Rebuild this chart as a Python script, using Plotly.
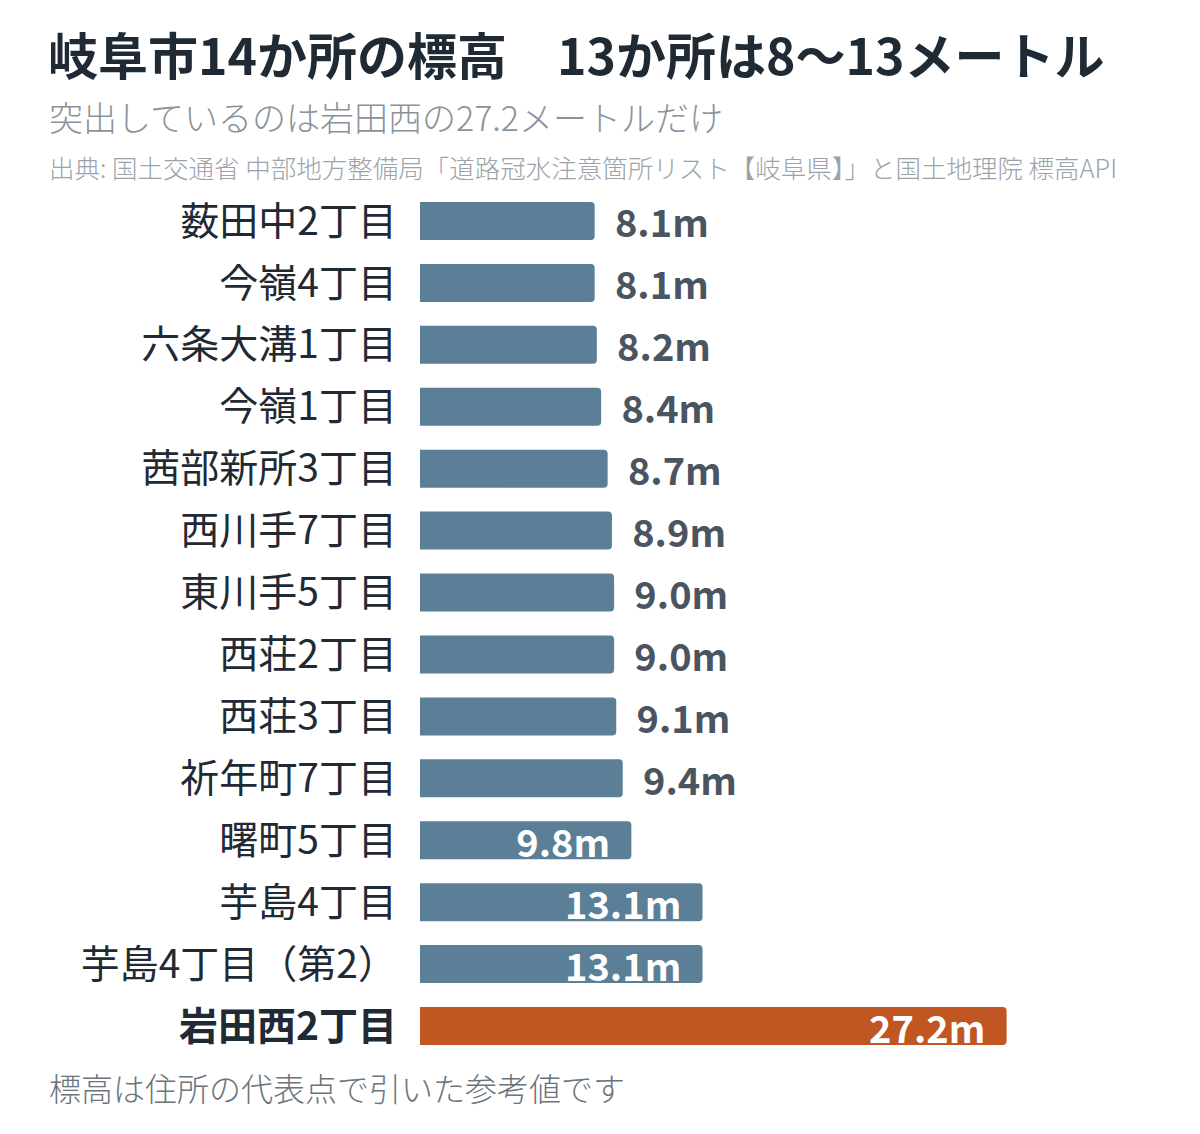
import plotly.graph_objects as go

# データ（上から順）
places = ['薮田中2丁目', '今嶺4丁目', '六条大溝1丁目', '今嶺1丁目', '茜部新所3丁目',
          '西川手7丁目', '東川手5丁目', '西荘2丁目', '西荘3丁目', '祈年町7丁目',
          '曙町5丁目', '芋島4丁目', '芋島4丁目（第2）', '岩田西2丁目']
elevation = [8.1, 8.1, 8.2, 8.4, 8.7, 8.9, 9.0, 9.0, 9.1, 9.4, 9.8, 13.1, 13.1, 27.2]
highlight = '岩田西2丁目'

W, H = 1200, 1134
OFF = 8  # ページ余白の分
ML, MR, MT, MB = 420 - OFF, 133 + OFF, 190 - OFF, 77 + OFF
plot_w = W - ML - MR
plot_h = H - MT - MB

FONT = 'Noto Sans CJK JP'
BLUE = '#5b7f96'
ORANGE = '#c05621'
DARK = '#1f2a35'


def px2x(px):
    return (px - OFF - ML) / plot_w


def py2y(py):
    return (H - MB - (py - OFF)) / plot_h


colors = [ORANGE if p == highlight else BLUE for p in places]
inside = [v >= 9.8 for v in elevation]
positions = ['inside' if i else 'outside' for i in inside]
templates = ['%{x:.1f}m\u00a0\u00a0' if i else '\u00a0\u00a0%{x:.1f}m' for i in inside]
ticktext = [f'<b>{p}</b>' if p == highlight else p for p in places]

fig = go.Figure(go.Bar(
    x=elevation,
    y=places,
    orientation='h',
    marker=dict(color=colors, line=dict(width=0)),
    texttemplate=templates,
    textposition=positions,
    insidetextanchor='end',
    insidetextfont=dict(color='white', size=38, family=FONT, weight=700),
    outsidetextfont=dict(color='#4a5561', size=38, family=FONT, weight=700),
    cliponaxis=False,
    hoverinfo='skip',
))

fig.update_layout(
    width=W, height=H,
    margin=dict(l=ML, r=MR, t=MT, b=MB),
    paper_bgcolor='white',
    plot_bgcolor='white',
    font=dict(family=FONT, color=DARK),
    showlegend=False,
    bargap=0.386,
    barcornerradius=4,
    uniformtext=dict(minsize=38, mode='show'),
    title=dict(
        text='<b>岐阜市14か所の標高　13か所は8〜13メートル</b>',
        x=(48 - OFF) / W, xanchor='left', xref='container',
        y=1 - (57 - OFF) / H, yanchor='middle', yref='container',
        font=dict(size=50, color=DARK, family=FONT),
    ),
)

fig.update_xaxes(range=[0, 30], visible=False, fixedrange=True)
fig.update_yaxes(
    categoryorder='array', categoryarray=places, autorange='reversed',
    tickvals=places, ticktext=ticktext,
    ticks='', showline=False, showgrid=False, zeroline=False,
    ticklabelstandoff=22,
    tickfont=dict(size=39, color=DARK, family=FONT),
)

notes = [
    ('突出しているのは岩田西の27.2メートルだけ', 117, 34, '#8a939b', 300),
    ('出典: 国土交通省 中部地方整備局「道路冠水注意箇所リスト【岐阜県】」と国土地理院 標高API', 166, 25.5, '#9aa3ab', 300),
    ('標高は住所の代表点で引いた参考値です', 1087, 32, '#6b747c', 300),
]
for text, ypix, size, color, weight in notes:
    fig.add_annotation(
        text=text, xref='paper', yref='paper',
        x=px2x(47), y=py2y(ypix), xanchor='left', yanchor='middle',
        showarrow=False, font=dict(size=size, color=color, family=FONT, weight=weight),
    )

fig.write_html('out.html')
